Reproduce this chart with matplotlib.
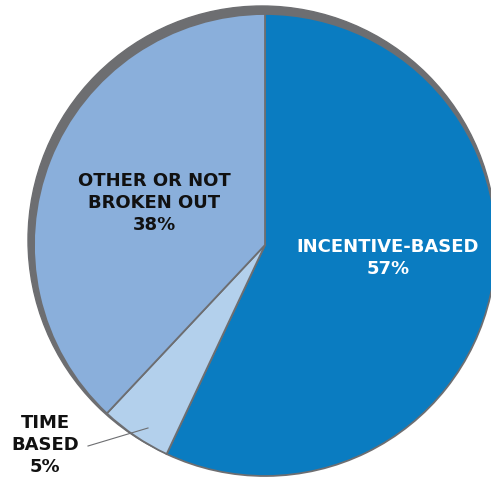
import matplotlib.pyplot as plt
from matplotlib.patches import Circle

# shares of the pie (clockwise from 12 o'clock)
categories = ["INCENTIVE-BASED", "TIME\nBASED", "OTHER OR NOT\nBROKEN OUT"]
shares = [57, 5, 38]
colors = ["#0a7cc1", "#b3d0ec", "#8aafdb"]
edge = "#6d6e71"

W, H = 491, 482
fig = plt.figure(figsize=(W / 100, H / 100), dpi=100)
ax = fig.add_axes([0, 0, 1, 1])

cx, cy, r = 265, H - 245, 231

# gray backing disc peeking out at top-left
ax.add_patch(Circle((cx - 3, cy + 5), r + 3, color=edge, zorder=0))

ax.pie(shares, colors=colors, startangle=90, counterclock=False,
       center=(cx, cy), radius=r,
       wedgeprops=dict(edgecolor=edge, linewidth=1.3))

font = dict(fontweight="bold", fontsize=13, ha="center", va="center",
            linespacing=1.3, family="DejaVu Sans")
ax.text(388, H - 258, f"{categories[0]}\n{shares[0]}%", color="white", **font)
ax.text(154, H - 203, f"{categories[2]}\n{shares[2]}%", color="#111111", **font)
ax.text(45, H - 445, f"{categories[1]}\n{shares[1]}%", color="#111111", **font)

# leader line for the small slice
ax.plot([88, 148], [H - 446, H - 428], color=edge, lw=0.8, zorder=5)

ax.set_xlim(0, W)
ax.set_ylim(0, H)
ax.set_aspect("auto")
ax.axis("off")

fig.savefig("out.png", dpi=100, facecolor="white")
